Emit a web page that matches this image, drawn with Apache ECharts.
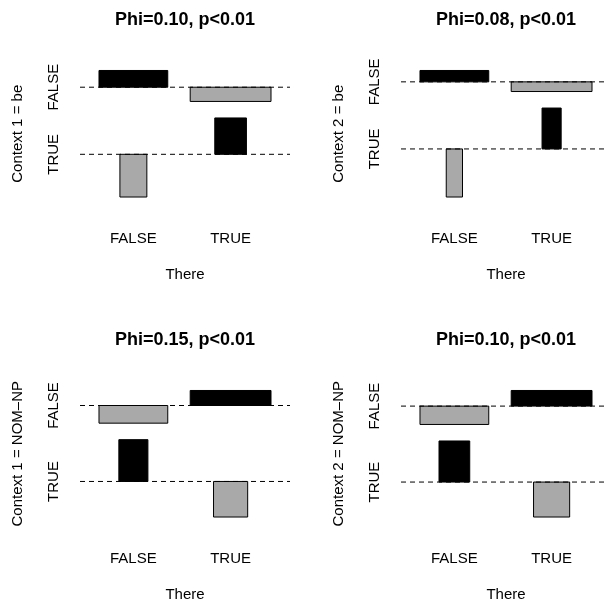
<!DOCTYPE html>
<html>
<head>
<meta charset="utf-8">
<script src="https://cdn.jsdelivr.net/npm/echarts@6/dist/echarts.min.js"></script>
<style>
  html, body { margin: 0; padding: 0; background: #ffffff; }
  #chart { width: 605px; height: 599px; }
</style>
</head>
<body>
<div id="chart"></div>
<script>
// 2x2 contingency tables: rows = There (FALSE, TRUE), columns = context (FALSE, TRUE)
const thereLevels = ['FALSE', 'TRUE'];
const contextLevels = ['FALSE', 'TRUE'];

const countsBe1 = [[762, 78], [972, 188]];
const countsBe2 = [[813, 27], [1081, 79]];
const countsNom1 = [[660, 180], [1037, 123]];
const countsNom2 = [[663, 177], [1004, 156]];

const panelTables = [countsBe1, countsBe2, countsNom1, countsNom2];
const panelTitles = ['Phi=0.10, p<0.01', 'Phi=0.08, p<0.01', 'Phi=0.15, p<0.01', 'Phi=0.10, p<0.01'];
const contextNames = ['Context 1 = be', 'Context 2 = be', 'Context 1 = NOM\u2013NP', 'Context 2 = NOM\u2013NP'];
const xAxisName = 'There';

// Styling
const FONT = '"Liberation Sans", Arial, Helvetica, sans-serif';
const POS_COLOR = '#000000';
const NEG_COLOR = '#A9A9A9';
const FIG_W = 321, FIG_H = 320;   // size of one panel's figure cell
const PLOT = { left: 80, top: 56.5, width: 210, height: 154.5 };
const SPACE = 0.3;

const sum = a => a.reduce((s, v) => s + v, 0);

// Cohen-Friendly association plot layout (Pearson residuals vs sqrt(expected))
function assocLayout(table) {
  // columns reversed so the first context level sits on top
  const f = table.map(r => r.slice().reverse());
  const yNames = contextLevels.slice().reverse();
  const nr = f.length, nc = f[0].length;
  const rs = f.map(sum);
  const cs = f[0].map((_, j) => sum(f.map(r => r[j])));
  const n = sum(rs);
  const e = f.map((r, i) => r.map((_, j) => rs[i] * cs[j] / n));
  const d = f.map((r, i) => r.map((v, j) => (v - e[i][j]) / Math.sqrt(e[i][j])));
  const w = e.map(r => r.map(Math.sqrt));
  const xw = w.map(r => Math.max(...r));
  const yh = [];
  const yPos = [];
  for (let j = 0; j < nc; j++) {
    const col = d.map(r => r[j]);
    yh.push(Math.max(...col) - Math.min(...col));
    yPos.push(Math.max(0, ...col));
  }
  const xDelta = sum(xw) / nr * SPACE;
  const yDelta = sum(yh) / nc * SPACE;
  const xlim = sum(xw) + nr * xDelta;
  const ylim = sum(yh) + nc * yDelta;
  const xm = [], ym = [];
  let acc = 0, prev = 0;
  for (let i = 0; i < nr; i++) { acc += xw[i] + xDelta; xm.push((prev + acc) / 2); prev = acc; }
  acc = 0;
  for (let j = 0; j < nc; j++) { acc += yh[j] + yDelta; ym.push(acc - yPos[j] - yDelta / 2); }
  const cells = [];
  for (let j = 0; j < nc; j++) {
    for (let i = 0; i < nr; i++) {
      cells.push([xm[i], ym[j], w[i][j], d[i][j]]);
    }
  }
  return { xm, ym, yNames, cells, xlim, ylim };
}

function nearestLabel(values, labels) {
  return v => {
    let best = 0;
    values.forEach((m, k) => { if (Math.abs(m - v) < Math.abs(values[best] - v)) best = k; });
    return labels[best];
  };
}

const grids = [], xAxes = [], yAxes = [], series = [], titles = [];
const textBase = { color: '#000000', fontFamily: FONT, fontSize: 15 };

panelTables.forEach((table, k) => {
  const L = assocLayout(table);
  const ox = (k % 2) * FIG_W, oy = Math.floor(k / 2) * FIG_H;
  const xMin = -0.04 * L.xlim, xMax = 1.04 * L.xlim;
  const yMin = -0.04 * L.ylim, yMax = 1.04 * L.ylim;

  grids.push({
    left: ox + PLOT.left, top: oy + PLOT.top, width: PLOT.width, height: PLOT.height,
    containLabel: false, outerBoundsMode: 'none'
  });

  xAxes.push({
    gridIndex: k, type: 'value', min: xMin, max: xMax,
    axisLine: { show: false }, axisTick: { show: false }, splitLine: { show: false },
    axisLabel: {
      customValues: L.xm, formatter: nearestLabel(L.xm, thereLevels),
      margin: 20, ...textBase
    },
    name: xAxisName, nameLocation: 'middle', nameGap: 56,
    nameTextStyle: { ...textBase }
  });

  yAxes.push({
    gridIndex: k, type: 'value', min: yMin, max: yMax,
    axisLine: { show: false }, axisTick: { show: false }, splitLine: { show: false },
    axisLabel: {
      customValues: L.ym, formatter: nearestLabel(L.ym, L.yNames),
      rotate: 90, margin: 19, ...textBase
    },
    name: contextNames[k], nameLocation: 'middle', nameGap: 55,
    nameTextStyle: { ...textBase }
  });

  titles.push({
    text: panelTitles[k], left: ox + PLOT.left + PLOT.width / 2, top: oy + 11,
    textAlign: 'center', padding: 0,
    textStyle: { color: '#000000', fontFamily: FONT, fontSize: 18, fontWeight: 'bold' }
  });

  // residual bars
  series.push({
    type: 'custom', xAxisIndex: k, yAxisIndex: k, z: 2,
    data: L.cells,
    renderItem: (params, api) => {
      const xc = api.value(0), yb = api.value(1), wd = api.value(2), r = api.value(3);
      const p0 = api.coord([xc - wd / 2, yb + Math.max(r, 0)]);
      const p1 = api.coord([xc + wd / 2, yb + Math.min(r, 0)]);
      return {
        type: 'rect',
        shape: { x: p0[0], y: p0[1], width: p1[0] - p0[0], height: p1[1] - p0[1] },
        style: { fill: r > 0 ? POS_COLOR : NEG_COLOR, stroke: '#000000', lineWidth: 1 }
      };
    }
  });

  // dashed baselines across the plot region
  series.push({
    type: 'custom', xAxisIndex: k, yAxisIndex: k, z: 3,
    data: L.ym.map(v => [v]),
    renderItem: (params, api) => {
      const a = api.coord([xMin, api.value(0)]);
      const b = api.coord([xMax, api.value(0)]);
      return {
        type: 'line',
        shape: { x1: a[0], y1: a[1], x2: b[0], y2: b[1] },
        style: { stroke: '#000000', lineWidth: 1, lineDash: [5, 4] }
      };
    }
  });
});

const chart = echarts.init(document.getElementById('chart'), null, { renderer: 'canvas' });
chart.setOption({
  animation: false,
  backgroundColor: '#ffffff',
  title: titles,
  grid: grids,
  xAxis: xAxes,
  yAxis: yAxes,
  series: series
});
</script>
</body>
</html>
